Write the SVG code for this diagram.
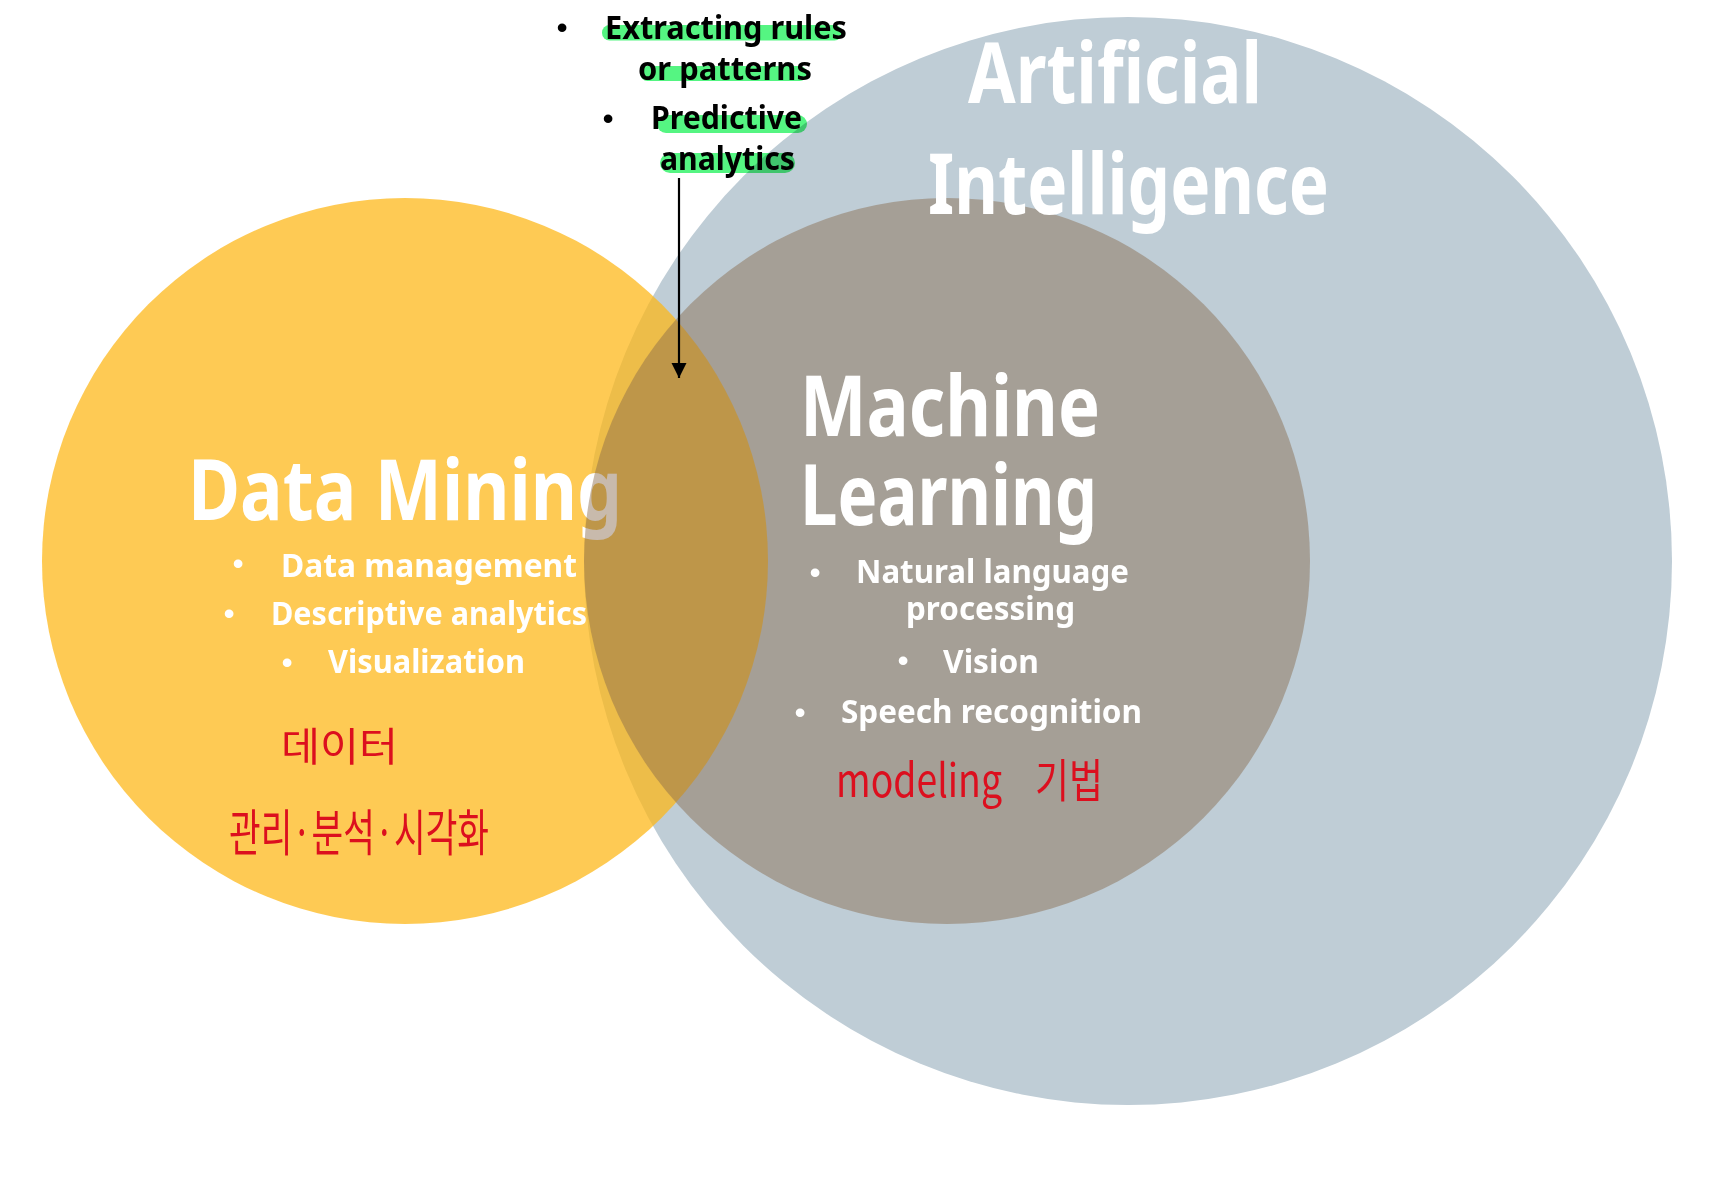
<svg xmlns="http://www.w3.org/2000/svg" width="1716" height="1183" viewBox="0 0 1716 1183">
  <style>
    .title { font-family: "Noto Sans", "Liberation Sans", sans-serif; font-weight: 700; fill: #FFFFFF; font-size: 84px; }
    .item { font-family: "Noto Sans", "Liberation Sans", sans-serif; font-weight: 700; fill: #FFFFFF; font-size: 32px; }
    .bul { font-family: "Liberation Sans", sans-serif; font-size: 32px; text-anchor: middle; }
    .note { font-family: "Noto Sans", "Liberation Sans", sans-serif; font-weight: 700; fill: #000000; font-size: 32px; }
    .hl { fill: #55F582; mix-blend-mode: multiply; }
    .pen { font-family: "Noto Sans CJK KR", "Noto Sans", sans-serif; font-weight: 400; fill: #DC0F1E; }
  </style>
  <defs>
    <marker id="arrowhead" markerWidth="16" markerHeight="16" refX="15" refY="8" orient="auto" markerUnits="userSpaceOnUse">
      <path d="M0,0.5 L15,8 L0,15.5 Z" fill="#000000"/>
    </marker>
  </defs>
  <rect x="0" y="0" width="1716" height="1183" fill="#FFFFFF"/>

  <g id="node-artificial-intelligence-circle">
    <circle cx="1128" cy="561" r="544" fill="#BFCDD6"/>
  </g>

  <g id="node-data-mining">
    <circle cx="405" cy="561" r="363" fill="rgb(254,183,20)" fill-opacity="0.73"/>
    <text class="title" x="188" y="520" font-size="81" textLength="434" lengthAdjust="spacingAndGlyphs">Data Mining</text>
    <text class="bul" x="238" y="574" fill="#FFFFFF">•</text>
    <text class="item" x="281" y="577" textLength="296" lengthAdjust="spacingAndGlyphs">Data management</text>
    <text class="bul" x="229" y="624" fill="#FFFFFF">•</text>
    <text class="item" x="271" y="625" textLength="316" lengthAdjust="spacingAndGlyphs">Descriptive analytics</text>
    <text class="bul" x="287" y="673" fill="#FFFFFF">•</text>
    <text class="item" x="328" y="673" textLength="197" lengthAdjust="spacingAndGlyphs">Visualization</text>
    <text class="pen" x="281" y="761" font-size="40" textLength="117" lengthAdjust="spacingAndGlyphs">데이터</text>
    <text class="pen" x="229" y="851" font-size="50" textLength="260" lengthAdjust="spacingAndGlyphs">관리·분석·시각화</text>
  </g>

  <g id="node-machine-learning">
    <circle cx="947" cy="561" r="363" fill="rgb(136,104,74)" fill-opacity="0.457"/>
    <text class="title" x="800" y="436" font-size="83" textLength="300" lengthAdjust="spacingAndGlyphs">Machine</text>
    <text class="title" x="800" y="525" font-size="83" textLength="297" lengthAdjust="spacingAndGlyphs">Learning</text>
    <text class="bul" x="815" y="583" fill="#FFFFFF">•</text>
    <text class="item" x="856" y="583" textLength="273" lengthAdjust="spacingAndGlyphs">Natural language</text>
    <text class="item" x="906" y="620" textLength="169" lengthAdjust="spacingAndGlyphs">processing</text>
    <text class="bul" x="903" y="671" fill="#FFFFFF">•</text>
    <text class="item" x="943" y="673" textLength="96" lengthAdjust="spacingAndGlyphs">Vision</text>
    <text class="bul" x="800" y="723" fill="#FFFFFF">•</text>
    <text class="item" x="841" y="723" textLength="301" lengthAdjust="spacingAndGlyphs">Speech recognition</text>
    <text class="pen" y="797" font-size="46"><tspan x="836" textLength="166" lengthAdjust="spacingAndGlyphs">modeling</tspan><tspan x="1035" textLength="68" lengthAdjust="spacingAndGlyphs">기법</tspan></text>
  </g>

  <g id="node-artificial-intelligence-label">
    <text class="title" x="968" y="103" textLength="294" lengthAdjust="spacingAndGlyphs">Artificial</text>
    <text class="title" x="928" y="214" textLength="401" lengthAdjust="spacingAndGlyphs">Intelligence</text>
  </g>

  <g id="node-overlap-annotation">
    <rect class="hl" x="602" y="25" width="240" height="15.5" rx="7.5"/>
    <rect class="hl" x="640" y="66" width="167" height="15" rx="7.5"/>
    <rect class="hl" x="657" y="115" width="150" height="18" rx="9"/>
    <rect class="hl" x="660" y="153" width="135" height="20" rx="10"/>
    <text class="bul" x="562" y="38" fill="#000000">•</text>
    <text class="note" x="605" y="39" textLength="242" lengthAdjust="spacingAndGlyphs">Extracting rules</text>
    <text class="note" x="638" y="80" textLength="174" lengthAdjust="spacingAndGlyphs">or patterns</text>
    <text class="bul" x="608" y="129" fill="#000000">•</text>
    <text class="note" x="651" y="129" textLength="151" lengthAdjust="spacingAndGlyphs">Predictive</text>
    <text class="note" x="660" y="170" textLength="135" lengthAdjust="spacingAndGlyphs">analytics</text>
  </g>

  <g id="connectors">
    <line x1="679" y1="178" x2="679" y2="378" stroke="#000000" stroke-width="2.2" marker-end="url(#arrowhead)"/>
  </g>
</svg>
